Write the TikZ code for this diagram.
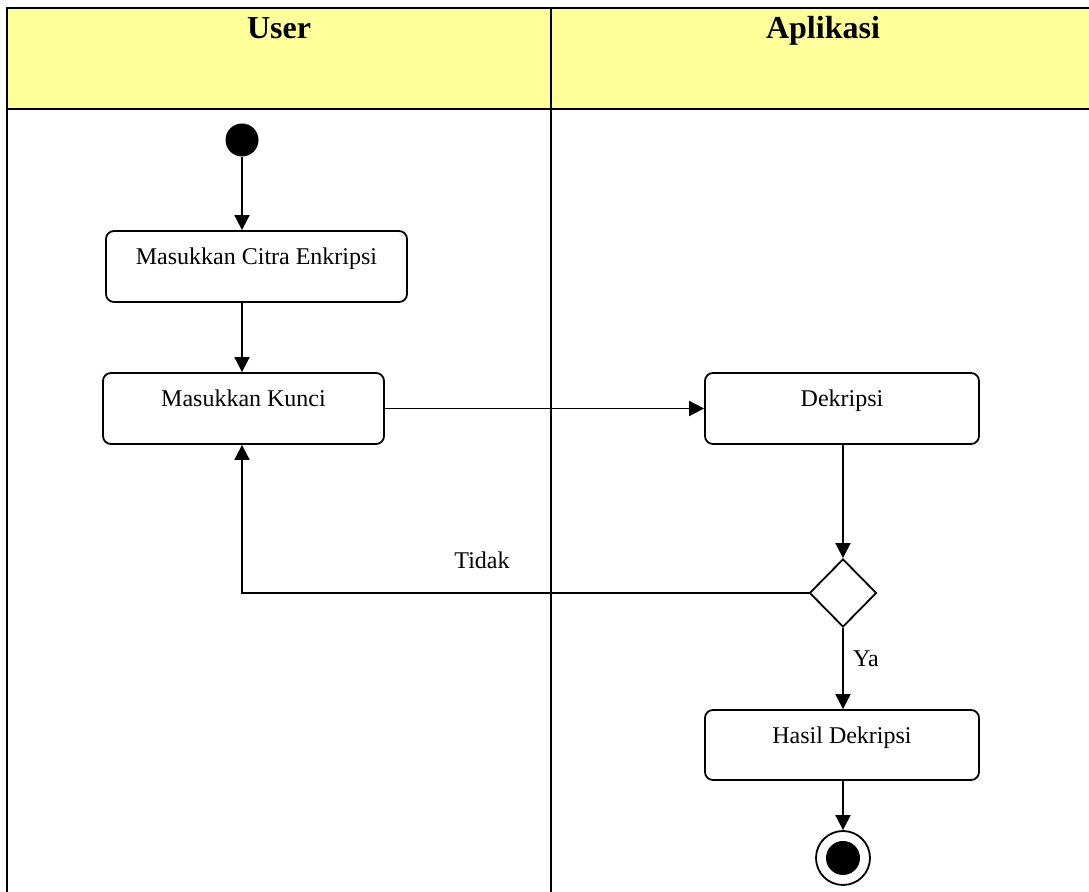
\documentclass[tikz,border=0pt]{standalone}
\usepackage{fontspec}
\setmainfont{Liberation Serif}
\usetikzlibrary{shapes.geometric,arrows.meta,calc}
\definecolor{laneyellow}{HTML}{FFFF99}
\tikzset{
  lane/.style={line width=1pt, line cap=rect},
  actbox/.style={draw, line width=0.9pt, rounded corners=4pt, inner sep=0pt},
  boxtext/.style={anchor=base, yshift=-17.25pt, inner sep=0pt, font=\fontsize{12}{14}\selectfont},
  flow/.style={line width=0.9pt, -{Triangle[length=7.5pt,width=7.5pt]}},
  lanehead/.style={anchor=base, inner sep=0pt, font=\fontsize{16}{19}\selectfont\bfseries},
  edgelabel/.style={font=\fontsize{12}{14}\selectfont},
}
\begin{document}
\begin{tikzpicture}[x=0.5pt,y=-0.5pt]
\useasboundingbox (0,0) rectangle (1089,892);

% swimlane frame
\fill[laneyellow] (7,8) rectangle (1089,109);
\draw[lane] (7,8) -- (1089,8);
\draw[lane] (7,109) -- (1089,109);
\draw[lane] (7,8) -- (7,892);
\draw[lane] (551,8) -- (551,892);
\node[lanehead] (huser) at (279,39) {User};
\node[lanehead] (happ) at (823,39) {Aplikasi};

% activities
\node[circle, fill=black, minimum size=16.5pt, inner sep=0pt] (start) at (242,140) {};
\node[actbox, minimum width=150.5pt, minimum height=35.5pt,
      label={[boxtext]north:Masukkan Citra Enkripsi}] (citra) at (256.5,266.5) {};
\node[actbox, minimum width=140.5pt, minimum height=35.5pt,
      label={[boxtext]north:Masukkan Kunci}] (kunci) at (243.5,408.5) {};
\node[actbox, minimum width=137pt, minimum height=35.5pt,
      label={[boxtext]north:Dekripsi}] (dekripsi) at (842,408.5) {};
\node[diamond, draw, line width=0.9pt, minimum width=33.5pt, minimum height=34pt,
      inner sep=0pt] (cek) at (843,593) {};
\node[actbox, minimum width=137pt, minimum height=35pt,
      label={[boxtext]north:Hasil Dekripsi}] (hasil) at (842,745) {};
\node[circle, draw, fill=white, line width=0.9pt, minimum size=27pt, inner sep=0pt] (akhir) at (843,858) {};
\node[circle, fill=black, minimum size=17pt, inner sep=0pt] (akhirdot) at (akhir) {};

% control flow
\draw[flow] (start) -- (start |- citra.north);
\draw[flow] (citra.south -| start) -- (kunci.north -| start);
\draw[flow] (kunci.east) -- (dekripsi.west);
\draw[flow] (dekripsi.south -| cek) -- (cek.north);
\draw[flow] (cek.west) -- (cek.west -| start) -- (kunci.south -| start);
\draw[flow] (cek.south) -- (hasil.north -| cek);
\draw[flow] (hasil.south -| cek) -- (akhir.north);

% guard labels
\node[edgelabel] (tidak) at (482,560) {Tidak};
\node[edgelabel] (ya) at (866,659) {Ya};
\end{tikzpicture}
\end{document}
